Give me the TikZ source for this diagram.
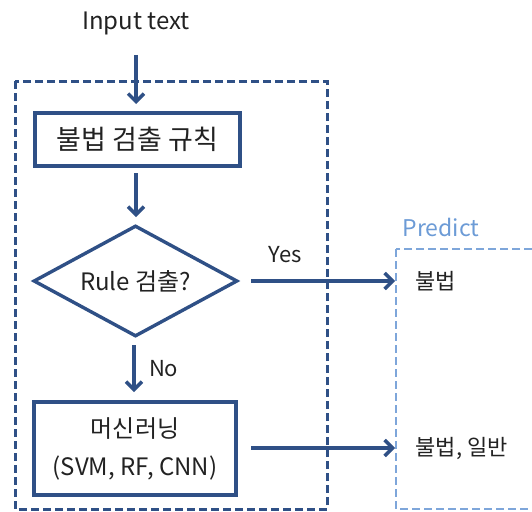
\documentclass[tikz,border=0pt]{standalone}
\usepackage{fontspec}
\setmainfont{Noto Sans CJK KR}
\usetikzlibrary{arrows.meta,shapes.geometric}
\definecolor{dblue}{HTML}{2F5086}
\definecolor{lblue}{HTML}{7EA6DA}
\definecolor{ptxt}{HTML}{6C9BD6}
\definecolor{txt}{HTML}{222222}
\begin{document}
\begin{tikzpicture}[x=1pt,y=-1pt,
  flow/.style={draw=dblue,line width=3.4pt,-{Straight Barb[length=8pt,width=16pt,line width=3.4pt]}},
  procbox/.style={draw=dblue,line width=3.4pt,fill=white,text=txt,inner sep=0pt},
  lbl/.style={text=txt,font=\fontsize{22}{26}\selectfont}]
\useasboundingbox (0,0) rectangle (532,511);
% outer dashed box
\draw[dblue,line width=3pt,dash pattern=on 8pt off 4pt] (15,81) rectangle (327,509);
% predict box
\draw[lblue,line width=2.4pt,dash pattern=on 8pt off 4pt] (396,249) rectangle (540,509);
\node[text=ptxt,font=\fontsize{23}{26}\selectfont] (pred) at (441,227) {Predict};

\node[lbl,font=\fontsize{24}{28}\selectfont] (input) at (136,23) {Input text};
\node[procbox,minimum width=205pt,minimum height=53pt,font=\fontsize{27}{30}\selectfont] (rule) at (137.5,139.5) {불법 검출 규칙};
\node[draw=dblue,line width=3.4pt,diamond,aspect=1.85,inner sep=0pt,minimum width=204pt,minimum height=111pt,text=txt,font=\fontsize{24}{28}\selectfont] (dec) at (135.5,281) {Rule 검출?};
\node[procbox,minimum width=202pt,minimum height=93pt,align=center,font=\fontsize{24}{38}\selectfont] (ml) at (135,448.5) {머신러닝\\(SVM, RF, CNN)};

\coordinate (a0) at (136,55);
\coordinate (a1) at (136,104);
\draw[flow] (a0) -- (a1);
\coordinate (b0) at (136,173);
\coordinate (b1) at (136,217);
\draw[flow] (b0) -- (b1);
\coordinate (c0) at (134,345);
\coordinate (c1) at (134,392);
\draw[flow] (c0) -- node[lbl,right=10pt] (no) {No} (c1);

\node[text=txt,anchor=west,font=\fontsize{22}{26}\selectfont] (r1) at (412,281) {불법};
\node[text=txt,anchor=west,font=\fontsize{22}{26}\selectfont] (r2) at (412,448) {불법, 일반};
\coordinate (y0) at (251,281);
\coordinate (y1) at (395,281);
\draw[flow] (y0) -- (y1);
\node[lbl] (yes) at (285,255) {Yes};
\coordinate (m0) at (251,448);
\coordinate (m1) at (395,448);
\draw[flow] (m0) -- (m1);
\end{tikzpicture}
\end{document}
